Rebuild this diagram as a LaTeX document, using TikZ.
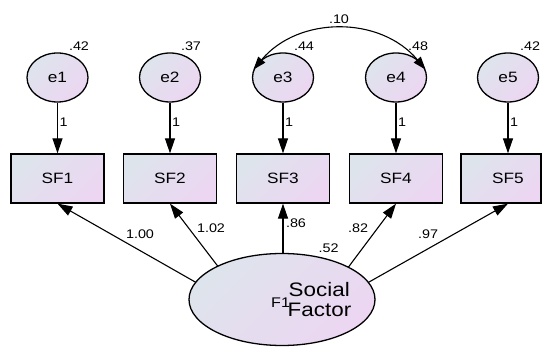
\documentclass[tikz,border=0pt]{standalone}
\usepackage{fontspec}
\setmainfont[FakeStretch=1.15]{Liberation Sans}
\usetikzlibrary{arrows.meta,shapes.geometric}

\definecolor{fillA}{RGB}{222,228,236}
\definecolor{fillB}{RGB}{236,214,242}

\begin{document}
\begin{tikzpicture}[x=1pt,y=-1pt,
  shadedfill/.style={top color=fillA, bottom color=fillB, shading angle=45},
  errvar/.style={ellipse, draw, line width=1.3pt, minimum width=61pt,
    minimum height=49pt, inner sep=0pt, shadedfill,
    font=\fontsize{15}{15}\selectfont},
  obsvar/.style={rectangle, draw, line width=1.3pt, minimum width=93pt,
    minimum height=49pt, inner sep=0pt, shadedfill,
    font=\fontsize{15}{15}\selectfont},
  latvar/.style={ellipse, draw, line width=1.3pt, minimum width=186pt,
    minimum height=92pt, inner sep=0pt, shadedfill},
  regpath/.style={line width=1.1pt, -{Triangle[length=15pt,width=10pt]}},
  covpath/.style={line width=1.1pt,
    {Triangle[length=13pt,width=9pt]}-{Triangle[length=13pt,width=9pt]}},
  num/.style={font=\fontsize{12.5}{12.5}\selectfont, inner sep=0pt},
  bigtext/.style={font=\fontsize{19.5}{19.5}\selectfont, inner sep=0pt, anchor=base west},
]
\fill[white] (0,0) rectangle (544,347);
\useasboundingbox (0,0) rectangle (544,347);

% error terms
\node[errvar] (e1) at (57.5,77.5) {e1};
\node[errvar] (e2) at (170,77.5) {e2};
\node[errvar] (e3) at (283,77.5) {e3};
\node[errvar] (e4) at (396,77.5) {e4};
\node[errvar] (e5) at (508,77.5) {e5};

% variances of the error terms
\node[num] (v1) at (79,46) {.42};
\node[num] (v2) at (191,46) {.37};
\node[num] (v3) at (304,46) {.44};
\node[num] (v4) at (418,46) {.48};
\node[num] (v5) at (530,46) {.42};

% observed indicators
\node[obsvar] (SF1) at (57.5,178.5) {SF1};
\node[obsvar] (SF2) at (170,178.5) {SF2};
\node[obsvar] (SF3) at (283,178.5) {SF3};
\node[obsvar] (SF4) at (396,178.5) {SF4};
\node[obsvar, minimum width=80pt] (SF5) at (501,178.5) {};
\node[font=\fontsize{15}{15}\selectfont, inner sep=0pt] (SF5t) at (508,178.5) {SF5};

% error paths
\draw[regpath] (e1) -- (SF1);
\draw[regpath] (e2) -- (SF2);
\draw[regpath] (e3) -- (SF3);
\draw[regpath] (e4) -- (SF4);
\draw[regpath] (e5.south) -- (SF5t |- SF5.north);
\foreach \x/\n in {63.5/1,176/2,289/3,402/4,514/5}
  \node[num] (w\n) at (\x,122.5) {1};

% covariance between e3 and e4
\draw[covpath] (e3.165) .. controls (298.5,15.7) and (380.5,15.7) .. (e4.15);
\node[num] (c34) at (339,19) {.10};

% loadings: start points inside the factor ellipse
\coordinate (p1) at (204,287);
\coordinate (p2) at (223,273);
\coordinate (p3) at (283,262);
\coordinate (p4) at (344,273);
\coordinate (p5) at (362,286);
\draw[regpath] (p1) -- (SF1.south);
\draw[regpath] (p2) -- (SF2.south);
\draw[regpath] (p3) -- (SF3.south);
\draw[regpath] (p4) -- (SF4.south);
\draw[regpath] (p5) -- (SF5t |- SF5.south);

% latent factor
\node[latvar] (F1) at (282,299.5) {};
\node[font=\fontsize{14}{14}\selectfont, inner sep=0pt, anchor=base west] (F1n) at (271,308) {F1};
\node[bigtext] (F1a) at (288.5,297) {Social};
\node[bigtext] (F1b) at (287.5,317) {Factor};

% loading estimates
\node[num] (l1) at (140,234) {1.00};
\node[num] (l2) at (211,228) {1.02};
\node[num] (l3) at (296,223.5) {.86};
\node[num] (r1) at (328.5,248) {.52};
\node[num] (l4) at (358,228.5) {.82};
\node[num] (l5) at (428,234) {.97};
\end{tikzpicture}
\end{document}
